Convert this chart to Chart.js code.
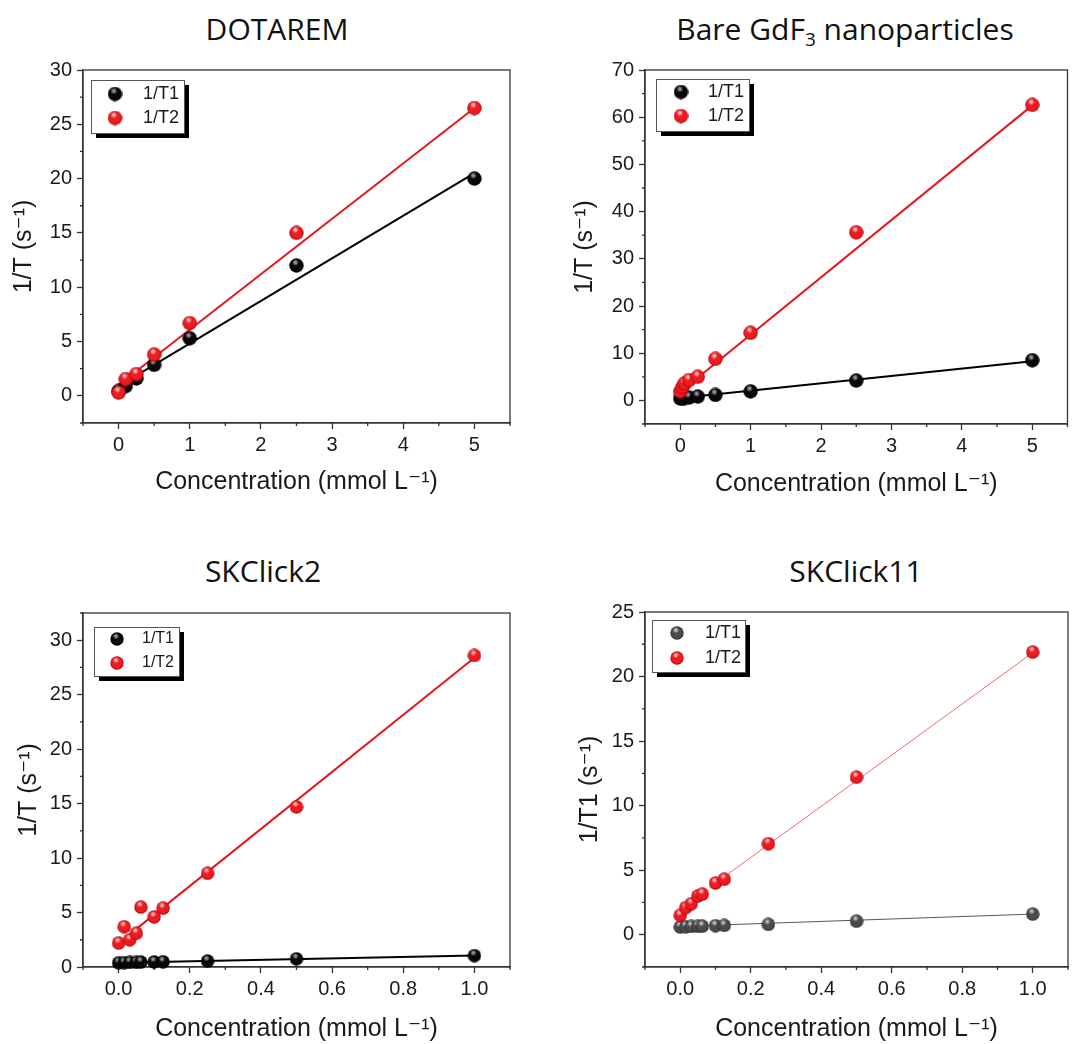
<!DOCTYPE html>
<html>
<head>
<meta charset="utf-8">
<script src="https://cdn.jsdelivr.net/npm/chart.js@4.4.1/dist/chart.umd.min.js"></script>
<style>
    body { margin: 0; background: #fff; width: 1076px; height: 1044px; position: relative; overflow: hidden; }
    .panel { position: absolute; width: 538px; height: 522px; }
    .title {
        position: absolute; white-space: nowrap; transform: translate(-50%, -50%);
        font-family: 'Open Sans', 'Noto Sans', sans-serif; font-size: 30px; line-height: 30px; color: #111;
    }
    .title sub { font-size: 19px; vertical-align: -6px; line-height: 0; }
</style>
</head>
<body>
<div class="title" style="left:277px; top:29px;">DOTAREM</div>
<div class="title" style="left:845px; top:29px;">Bare GdF<sub>3</sub> nanoparticles</div>
<div class="title" style="left:263px; top:571px;">SKClick2</div>
<div class="title" style="left:856px; top:571px;">SKClick11</div>

<div class="panel" style="left:0; top:0;"><canvas id="c1" width="538" height="522"></canvas></div>
<div class="panel" style="left:538px; top:0;"><canvas id="c2" width="538" height="522"></canvas></div>
<div class="panel" style="left:0; top:522px;"><canvas id="c3" width="538" height="522"></canvas></div>
<div class="panel" style="left:538px; top:522px;"><canvas id="c4" width="538" height="522"></canvas></div>

<script>
// ---- data (mmol/L vs 1/T in s^-1) ----
// DOTAREM
const dotaConc = [0, 0.1, 0.25, 0.5, 1, 2.5, 5];
const dotaT1 = [0.45, 0.9, 1.6, 2.85, 5.3, 12.0, 20.0];
const dotaT2 = [0.3, 1.55, 2.0, 3.8, 6.7, 15.0, 26.5];
const dotaFitX = [0, 5];
const dotaFitT1 = [0.9, 20.5];
const dotaFitT2 = [1.0, 26.5];

// Bare GdF3 nanoparticles
const gdfConc = [0, 0.03125, 0.0625, 0.125, 0.25, 0.5, 1, 2.5, 5];
const gdfT1 = [0.4, 0.45, 0.5, 0.6, 0.8, 1.15, 1.9, 4.2, 8.5];
const gdfT2 = [1.9, 2.8, 3.6, 4.3, 5.0, 8.8, 14.3, 35.6, 62.6];
const gdfFitX = [0, 5];
const gdfFitT1 = [0.5, 8.3];
const gdfFitT2 = [1.8, 62.5];

// SKClick2
const sk2Conc = [0, 0.0156, 0.03125, 0.05, 0.0625, 0.1, 0.125, 0.25, 0.5, 1];
const sk2T1 = [0.38, 0.4, 0.42, 0.43, 0.45, 0.46, 0.48, 0.55, 0.75, 1.05];
const sk2T2 = [2.2, 3.7, 2.5, 3.1, 5.5, 4.6, 5.4, 8.6, 14.7, 28.6];
const sk2FitT1X = [0, 1];
const sk2FitT1 = [0.4, 1.05];
const sk2FitT2X = [0.05, 1];
const sk2FitT2 = [3.5, 28.4];

// SKClick11
const sk11Conc = [0, 0.0156, 0.03125, 0.05, 0.0625, 0.1, 0.125, 0.25, 0.5, 1];
const sk11T1 = [0.6, 0.62, 0.64, 0.65, 0.66, 0.7, 0.72, 0.8, 1.05, 1.6];
const sk11T2 = [1.5, 2.1, 2.4, 3.0, 3.15, 4.0, 4.3, 7.05, 12.2, 21.9];
const sk11FitT1X = [0, 1];
const sk11FitT1 = [0.65, 1.6];
const sk11FitT2X = [0.1, 1];
const sk11FitT2 = [4.0, 21.85];

// ---- axis ticks ----
const xLabelsWide = ['0', '1', '2', '3', '4', '5'];
const xMinorWide = [-0.5, 0.5, 1.5, 2.5, 3.5, 4.5, 5.5];
const xLabelsUnit = ['0.0', '0.2', '0.4', '0.6', '0.8', '1.0'];
const xMinorUnit = [-0.1, 0.1, 0.3, 0.5, 0.7, 0.9, 1.1];
const yLabels30 = ['0', '5', '10', '15', '20', '25', '30'];
const yMinor30 = [-2.5, 2.5, 7.5, 12.5, 17.5, 22.5, 27.5];
const yLabels70 = ['0', '10', '20', '30', '40', '50', '60', '70'];
const yMinor70 = [-5, 5, 15, 25, 35, 45, 55, 65];
const yLabels25 = ['0', '5', '10', '15', '20', '25'];
const yMinor25 = [-2.5, 2.5, 7.5, 12.5, 17.5, 22.5];
const yMinor32 = [2.5, 7.5, 12.5, 17.5, 22.5, 27.5, 32.5];

const seriesNames = ['1/T1', '1/T2'];
const xTitle = 'Concentration (mmol L\u207B\u00B9)';

const FONT = "'Liberation Sans', Arial, 'DejaVu Sans', sans-serif";
const INK = '#1a1a1a';
const AXIS = '#333';

// shaded ball marker (Origin style)
function ball(base, edge, hi, d) {
    const c = document.createElement('canvas');
    c.width = c.height = d;
    const g = c.getContext('2d');
    const r = d / 2;
    const body = g.createRadialGradient(r * 0.9, r * 0.8, r * 0.1, r, r, r);
    body.addColorStop(0, base);
    body.addColorStop(0.7, base);
    body.addColorStop(1, edge);
    g.fillStyle = body;
    g.beginPath();
    g.arc(r, r, r - 0.3, 0, Math.PI * 2);
    g.fill();
    const spot = g.createRadialGradient(r * 0.85, r * 0.6, 0, r * 0.85, r * 0.6, r * 0.45);
    spot.addColorStop(0, hi);
    spot.addColorStop(1, 'rgba(255,255,255,0)');
    g.fillStyle = spot;
    g.beginPath();
    g.arc(r, r, r - 0.3, 0, Math.PI * 2);
    g.fill();
    return c;
}

const redBallL = ball('#ec1c22', '#a80000', 'rgba(255,235,235,0.95)', 15);
const blackBallL = ball('#080808', '#000000', 'rgba(200,200,200,0.9)', 15);
const redBall = ball('#ec1c22', '#a80000', 'rgba(255,235,235,0.95)', 14);
const blackBall = ball('#080808', '#000000', 'rgba(200,200,200,0.9)', 14);
const greyBall = ball('#4a4a4a', '#2a2a2a', 'rgba(230,230,230,0.95)', 14);

const pairs = (xs, ys) => xs.map((x, i) => ({ x: x, y: ys[i] }));

// frame around the plot area plus small minor ticks
const framePlugin = {
    id: 'frame',
    beforeDatasetsDraw(chart, args, opts) {
        const { ctx, chartArea: a, scales } = chart;
        ctx.save();
        ctx.strokeStyle = AXIS;
        ctx.lineWidth = 1.3;
        ctx.strokeRect(a.left, a.top, a.right - a.left, a.bottom - a.top);
        ctx.beginPath();
        (opts.minorX || []).forEach(v => {
            const px = scales.x.getPixelForValue(v);
            ctx.moveTo(px, a.bottom);
            ctx.lineTo(px, a.bottom + 3);
        });
        (opts.minorY || []).forEach(v => {
            const py = scales.y.getPixelForValue(v);
            ctx.moveTo(a.left, py);
            ctx.lineTo(a.left - 3, py);
        });
        ctx.stroke();
        ctx.restore();
    }
};

// boxed legend with drop shadow, top-left inside the plot
const boxLegend = {
    id: 'boxLegend',
    afterDatasetsDraw(chart, args, opts) {
        const { ctx, chartArea: a } = chart;
        const x = a.left + opts.dx, y = a.top + opts.dy;
        ctx.save();
        ctx.fillStyle = '#000';
        ctx.fillRect(x + 5, y + 5, opts.w, opts.h);
        ctx.fillStyle = '#fff';
        ctx.fillRect(x, y, opts.w, opts.h);
        ctx.strokeStyle = '#555';
        ctx.lineWidth = 1;
        ctx.strokeRect(x + 0.5, y + 0.5, opts.w, opts.h);
        const items = chart.data.datasets.filter(d => d.inLegend);
        ctx.font = opts.size + 'px ' + FONT;
        ctx.fillStyle = INK;
        ctx.textBaseline = 'middle';
        items.forEach((d, i) => {
            const my = a.top + opts.rows[i];
            const img = d.pointStyle;
            ctx.drawImage(img, a.left + opts.mx - img.width / 2, my - img.height / 2);
            ctx.fillText(d.label, a.left + opts.tx, my);
        });
        ctx.restore();
    }
};

function makePanel(id, p) {
    const W = 538, H = 522;
    const xTickVals = p.xLabels.map(Number);
    const yTickVals = p.yLabels.map(Number);
    const rad = p.redBall.width / 2;
    new Chart(document.getElementById(id), {
        type: 'scatter',
        data: {
            // T1 listed first (legend order); T2 has lower order so it is drawn on top
            datasets: [
                { label: seriesNames[0], data: pairs(p.conc, p.t1), pointStyle: p.darkBall, pointRadius: rad,
                  inLegend: true, order: 1, clip: false },
                { label: seriesNames[1], data: pairs(p.conc, p.t2), pointStyle: p.redBall, pointRadius: rad,
                  inLegend: true, order: 0, clip: false },
                { label: 'fit T2', data: pairs(p.fitT2X, p.fitT2), showLine: true, pointRadius: 0,
                  borderColor: p.redLine, borderWidth: p.lineW, order: 2 },
                { label: 'fit T1', data: pairs(p.fitT1X, p.fitT1), showLine: true, pointRadius: 0,
                  borderColor: p.darkLine, borderWidth: p.lineW, order: 2 }
            ]
        },
        options: {
            responsive: false,
            animation: false,
            events: [],
            layout: { padding: { top: p.area.top, right: W - p.area.right, bottom: 0, left: 0 } },
            scales: {
                x: {
                    type: 'linear', min: p.xMin, max: p.xMax,
                    afterBuildTicks: s => { s.ticks = xTickVals.map(v => ({ value: v })); },
                    afterFit: s => { s.height = H - p.area.bottom; },
                    ticks: { autoSkip: false, maxRotation: 0, padding: 4, color: INK,
                             font: { family: FONT, size: 20 }, callback: (v, i) => p.xLabels[i] },
                    grid: { drawOnChartArea: false, tickLength: 6, tickColor: AXIS, tickWidth: 1.3 },
                    border: { color: AXIS, width: 1.3 },
                    title: { display: true, text: xTitle, color: INK, font: { family: FONT, size: 25 },
                             padding: { top: 0, bottom: p.xTitlePad } }
                },
                y: {
                    type: 'linear', min: p.yMin, max: p.yMax,
                    afterBuildTicks: s => { s.ticks = yTickVals.map(v => ({ value: v })); },
                    afterFit: s => { s.width = p.area.left; },
                    ticks: { autoSkip: false, padding: 5, color: INK,
                             font: { family: FONT, size: 20 }, callback: (v, i) => p.yLabels[i] },
                    grid: { drawOnChartArea: false, tickLength: 6, tickColor: AXIS, tickWidth: 1.3 },
                    border: { color: AXIS, width: 1.3 },
                    title: { display: true, text: p.yTitle, color: INK, font: { family: FONT, size: 25 },
                             padding: { top: p.yTitlePad, bottom: 0 } }
                }
            },
            plugins: {
                legend: { display: false },
                tooltip: { enabled: false },
                frame: { minorX: p.minorX, minorY: p.minorY },
                boxLegend: p.legend
            }
        },
        plugins: [framePlugin, boxLegend]
    });
}

makePanel('c1', {
    conc: dotaConc, t1: dotaT1, t2: dotaT2,
    fitT1X: dotaFitX, fitT1: dotaFitT1, fitT2X: dotaFitX, fitT2: dotaFitT2,
    xMin: -0.5, xMax: 5.5, yMin: -2.5, yMax: 30,
    xLabels: xLabelsWide, yLabels: yLabels30, minorX: xMinorWide, minorY: yMinor30,
    area: { left: 83, top: 70, right: 510, bottom: 423 },
    yTitle: '1/T (s\u207B\u00B9)', yTitlePad: 9, xTitlePad: 25,
    redBall: redBallL, darkBall: blackBallL, redLine: '#e5161c', darkLine: '#000', lineW: 2,
    legend: { dx: 8, dy: 10, w: 93, h: 53, mx: 32, tx: 60, rows: [24, 48], size: 18 }
});

makePanel('c2', {
    conc: gdfConc, t1: gdfT1, t2: gdfT2,
    fitT1X: gdfFitX, fitT1: gdfFitT1, fitT2X: gdfFitX, fitT2: gdfFitT2,
    xMin: -0.5, xMax: 5.5, yMin: -5, yMax: 70,
    xLabels: xLabelsWide, yLabels: yLabels70, minorX: xMinorWide, minorY: yMinor70,
    area: { left: 107, top: 70, right: 537, bottom: 424 },
    yTitle: '1/T (s\u207B\u00B9)', yTitlePad: 32, xTitlePad: 23,
    redBall: redBallL, darkBall: blackBallL, redLine: '#e5161c', darkLine: '#000', lineW: 2,
    legend: { dx: 11, dy: 9, w: 93, h: 52, mx: 36, tx: 63, rows: [22, 46], size: 18 }
});

makePanel('c3', {
    conc: sk2Conc, t1: sk2T1, t2: sk2T2,
    fitT1X: sk2FitT1X, fitT1: sk2FitT1, fitT2X: sk2FitT2X, fitT2: sk2FitT2,
    xMin: -0.1, xMax: 1.1, yMin: 0, yMax: 32.5,
    xLabels: xLabelsUnit, yLabels: yLabels30, minorX: xMinorUnit, minorY: yMinor32,
    area: { left: 83, top: 91, right: 510, bottom: 445 },
    yTitle: '1/T (s\u207B\u00B9)', yTitlePad: 14, xTitlePad: 0,
    redBall: redBall, darkBall: blackBall, redLine: '#e5161c', darkLine: '#000', lineW: 2,
    legend: { dx: 11, dy: 14, w: 85, h: 49, mx: 34, tx: 59, rows: [26, 50], size: 16 }
});

makePanel('c4', {
    conc: sk11Conc, t1: sk11T1, t2: sk11T2,
    fitT1X: sk11FitT1X, fitT1: sk11FitT1, fitT2X: sk11FitT2X, fitT2: sk11FitT2,
    xMin: -0.1, xMax: 1.1, yMin: -2.5, yMax: 25,
    xLabels: xLabelsUnit, yLabels: yLabels25, minorX: xMinorUnit, minorY: yMinor25,
    area: { left: 107, top: 90, right: 537, bottom: 445 },
    yTitle: '1/T1 (s\u207B\u00B9)', yTitlePad: 37, xTitlePad: 0,
    redBall: redBall, darkBall: greyBall, redLine: '#f06a6a', darkLine: '#555', lineW: 1,
    legend: { dx: 7, dy: 8, w: 93, h: 52, mx: 32, tx: 60, rows: [21, 46], size: 18 }
});
</script>
</body>
</html>
